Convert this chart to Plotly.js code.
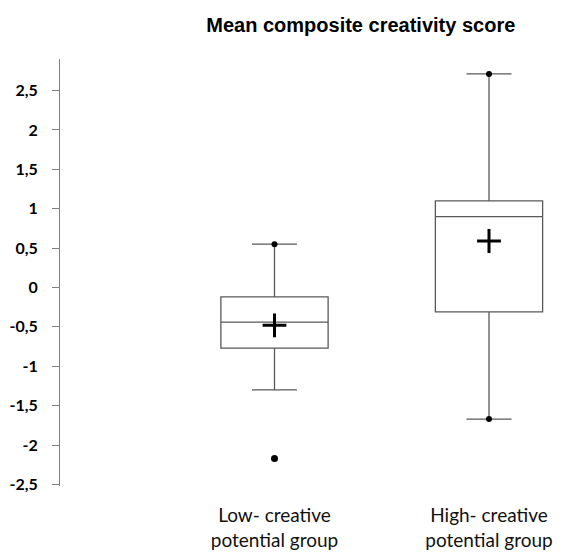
<!DOCTYPE html>
<html>
<head>
<meta charset="utf-8">
<script src="https://cdn.plot.ly/plotly-3.0.1.min.js"></script>
<style>html,body{margin:0;padding:0;background:#fff}</style>
</head>
<body>
<div id="chart" style="width:563px;height:556px"></div>
<script>
const categories = ["Low- creative<br>potential group", "High- creative<br>potential group"];
const q1Values = [-0.77, -0.31];
const medianValues = [-0.44, 0.90];
const q3Values = [-0.12, 1.10];
const lowerWhisker = [-1.30, -1.67];
const upperWhisker = [0.55, 2.71];
const meanValues = [-0.48, 0.59];
const outlierCats = [categories[0]];
const outlierValues = [-2.17];
const yTickVals = [-2.5, -2, -1.5, -1, -0.5, 0, 0.5, 1, 1.5, 2, 2.5];
const yTickText = ["-2,5", "-2", "-1,5", "-1", "-0,5", "0", "0,5", "1", "1,5", "2", "2,5"];

const lineColor = '#595959';

const traces = [
  {
    type: 'box',
    x: categories,
    q1: q1Values,
    median: medianValues,
    q3: q3Values,
    lowerfence: lowerWhisker,
    upperfence: upperWhisker,
    boxpoints: false,
    width: 0.5,
    whiskerwidth: 0.42,
    fillcolor: '#ffffff',
    line: {color: lineColor, width: 1.3},
    hoverinfo: 'skip',
    showlegend: false
  },
  {
    type: 'scatter', mode: 'markers',
    x: [categories[0], categories[1], categories[1]],
    y: [upperWhisker[0], upperWhisker[1], lowerWhisker[1]],
    marker: {symbol: 'circle', size: 6, color: '#000'},
    showlegend: false, hoverinfo: 'skip'
  },
  {
    type: 'scatter', mode: 'markers',
    x: outlierCats, y: outlierValues,
    marker: {symbol: 'circle', size: 7, color: '#000'},
    showlegend: false, hoverinfo: 'skip'
  },
  {
    type: 'scatter', mode: 'markers',
    x: categories, y: meanValues,
    marker: {symbol: 'cross-thin', size: 17, color: '#000', line: {color: '#000', width: 3}},
    showlegend: false, hoverinfo: 'skip'
  }
];

const layout = {
  width: 563, height: 556,
  margin: {l: 60, r: 0, t: 59, b: 70},
  paper_bgcolor: '#fff', plot_bgcolor: '#fff',
  title: {
    text: '<b>Mean composite creativity score</b>',
    font: {family: 'Liberation Sans, Arial, sans-serif', size: 20, color: '#000'},
    x: 0.598, xanchor: 'center', xref: 'paper',
    y: 0.955, yanchor: 'middle', yref: 'container'
  },
  xaxis: {
    type: 'category',
    range: [-1, 1.345],
    showline: false, showgrid: false, zeroline: false,
    ticks: '',
    tickfont: {family: 'Lato, Carlito, sans-serif', size: 19, color: '#111'},
    ticklabelstandoff: 16,
    fixedrange: true
  },
  yaxis: {
    range: [-2.52, 2.9],
    tickvals: yTickVals,
    ticktext: yTickText.map(t => '<b>' + t + '</b>'),
    showline: true, linecolor: '#7f7f7f', linewidth: 1,
    ticks: 'outside', ticklen: 7, tickcolor: '#7f7f7f', tickwidth: 1,
    showgrid: false, zeroline: false,
    tickfont: {family: 'Lato, Carlito, sans-serif', size: 16, color: '#000'},
    ticklabelstandoff: 11,
    fixedrange: true
  }
};

Plotly.newPlot('chart', traces, layout, {displayModeBar: false, staticPlot: true});
</script>
</body>
</html>
